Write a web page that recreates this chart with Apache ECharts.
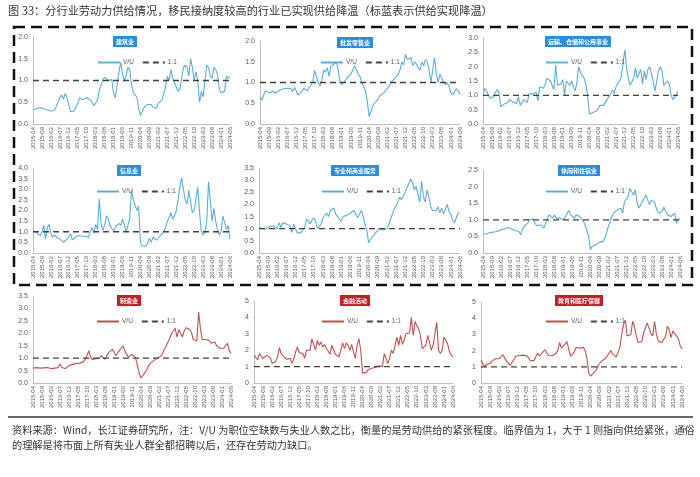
<!DOCTYPE html>
<html>
<head>
<meta charset="utf-8">
<script src="https://cdn.jsdelivr.net/npm/echarts@6/dist/echarts.min.js"></script>
<style>html,body{margin:0;padding:0;background:#fff;}#c{width:700px;height:477px;}</style>
</head>
<body>
<div id="c"></div>
<script>
// ---- categories (monthly, 2015-04 .. 2024-06) ----
const startYear = 2015, startMonth = 4, monthCount = 111;
const categories = [];
for (let k = 0; k < monthCount; k++) {
  const m0 = startMonth - 1 + k;
  const y = startYear + Math.floor(m0 / 12);
  const m = (m0 % 12) + 1;
  categories.push(y + '-' + (m < 10 ? '0' + m : m));
}
const threshold = 1; // 1:1 line

const panelTitles = ['建筑业','批发零售业','运输、仓储和公用事业','信息业','专业和商业服务','休闲和住宿业','制造业','金融活动','教育和医疗保健'];

const construction = [0.32,0.33,0.35,0.37,0.38,0.36,0.35,0.33,0.32,0.31,
 0.30,0.30,0.31,0.35,0.50,0.60,0.67,0.57,0.70,0.60,
 0.45,0.28,0.26,0.30,0.40,0.47,0.60,0.58,0.56,0.60,
 0.61,0.62,0.55,0.50,0.42,0.40,0.55,0.78,0.82,1.02,
 1.08,1.05,1.00,1.03,1.02,0.70,0.60,0.90,1.20,1.42,
 1.15,1.00,1.10,1.30,1.25,0.90,0.72,0.70,0.62,0.35,
 0.20,0.30,0.38,0.42,0.45,0.46,0.45,0.38,0.42,0.36,
 0.48,0.52,0.55,0.58,0.85,1.10,1.00,1.25,1.05,0.95,
 0.85,0.75,0.80,1.05,1.30,1.35,1.30,1.10,1.50,1.30,
 1.00,1.20,1.00,0.50,0.75,0.62,1.00,1.35,1.30,1.10,
 1.05,1.30,1.25,1.15,0.80,0.72,0.73,0.75,1.10,1.05,1.08];

const retail = [0.65,0.58,0.60,0.80,0.76,0.75,0.72,0.78,0.76,0.75,
 0.78,0.82,0.84,0.85,0.82,0.86,0.88,0.85,0.78,0.88,
 0.84,0.70,0.72,0.78,0.86,0.88,0.80,0.88,0.92,1.00,
 1.30,1.28,1.00,0.92,1.05,1.30,1.25,1.35,1.15,1.40,
 1.42,1.45,1.50,1.30,1.00,0.95,1.00,1.05,1.12,1.10,
 1.20,1.30,1.40,1.32,1.20,1.15,1.00,0.98,0.80,0.55,
 0.18,0.30,0.42,0.50,0.55,0.60,0.68,0.72,0.75,0.72,
 0.85,0.90,1.00,1.05,1.10,1.15,1.20,1.30,1.50,1.42,
 1.68,1.55,1.58,1.60,1.40,1.50,1.45,1.35,1.30,1.50,
 1.40,1.55,1.50,1.30,1.00,1.00,1.60,1.20,1.00,1.20,
 1.10,1.00,0.95,1.00,0.90,0.75,0.70,0.68,0.85,0.80,0.72];

const transport = [1.00,1.25,1.15,1.00,0.90,0.90,0.95,1.10,1.20,1.10,
 0.60,0.55,0.70,0.72,0.75,0.85,0.80,0.75,0.70,0.72,
 0.95,0.65,0.70,0.85,0.80,0.75,1.05,1.10,1.05,1.05,
 1.10,0.80,1.30,1.35,1.25,1.35,1.60,1.55,1.50,1.35,
 1.20,2.05,1.35,1.40,1.40,1.55,1.00,1.50,1.45,1.35,
 1.50,1.30,1.15,1.45,2.00,1.80,1.70,1.60,1.40,1.00,
 0.35,0.35,0.40,0.38,0.45,0.50,0.65,0.60,0.65,0.70,
 0.85,0.90,1.05,1.20,1.05,1.30,1.40,1.50,1.65,1.70,
 2.60,1.95,1.60,1.35,1.30,1.60,1.95,1.60,1.75,1.90,
 1.40,1.85,1.55,1.90,2.00,1.75,1.50,1.15,1.50,1.85,
 2.00,1.85,1.35,1.30,1.50,1.40,1.05,0.85,0.90,1.00,1.15];

const information = [1.05,1.00,0.95,0.88,0.82,1.00,1.30,0.65,1.20,1.35,
 0.90,0.75,0.85,0.75,0.80,0.65,0.60,0.50,0.55,0.65,
 0.70,0.90,0.62,0.65,0.78,0.80,0.82,0.80,0.78,0.75,
 0.80,0.70,1.00,1.20,0.95,1.35,1.10,2.55,1.40,1.05,
 1.30,1.75,1.60,1.30,1.15,1.05,1.20,1.30,1.40,1.30,
 1.60,1.35,1.00,1.30,1.60,2.95,2.50,2.25,2.00,2.20,
 0.50,0.32,0.30,0.32,0.45,0.70,0.50,0.75,0.80,0.60,
 0.65,0.80,0.90,1.00,1.20,1.50,1.65,1.90,1.60,1.75,
 2.00,2.50,3.10,3.55,3.00,2.50,2.30,2.95,2.40,1.90,
 2.00,2.05,3.10,1.90,1.00,0.85,1.00,1.45,3.35,2.50,
 1.50,2.10,1.50,1.10,0.85,1.00,1.75,1.45,1.10,1.30,0.65];

const professional = [1.05,0.98,1.00,0.95,1.00,1.05,1.10,1.15,1.12,1.05,
 1.00,1.25,1.05,1.25,1.20,1.20,1.15,1.10,0.85,1.20,
 1.00,0.82,0.80,0.85,0.92,1.05,1.40,1.30,1.20,1.35,
 1.45,1.30,1.00,1.02,1.20,1.45,1.50,1.65,1.50,1.75,
 1.80,1.85,1.60,1.65,1.40,1.30,1.50,1.50,1.55,1.50,
 1.65,1.70,1.75,1.60,1.45,1.60,1.75,1.50,1.20,0.95,
 0.42,0.55,0.65,0.75,0.85,0.92,1.00,1.05,0.95,1.00,
 1.00,1.15,1.40,1.60,1.80,1.85,2.10,2.30,2.20,2.35,
 2.50,2.70,2.65,3.05,2.90,2.60,2.75,2.40,2.10,2.95,
 2.30,2.10,2.60,2.30,1.90,1.75,1.80,1.75,1.90,1.65,
 1.85,1.60,1.80,2.00,1.70,1.60,1.35,1.25,1.45,1.65,1.65];

const leisure = [0.58,0.55,0.57,0.60,0.62,0.60,0.63,0.62,0.65,0.66,
 0.70,0.74,0.72,0.75,0.77,0.75,0.72,0.70,0.68,0.72,
 0.65,0.55,0.72,0.80,0.85,0.90,1.00,1.05,1.02,0.90,
 0.82,0.80,0.85,0.80,0.75,0.90,1.05,1.15,1.10,1.05,
 1.15,1.05,1.10,1.05,1.00,1.00,0.98,1.20,1.28,1.15,
 1.10,1.05,1.15,1.20,1.10,1.05,0.95,0.85,0.90,0.50,
 0.10,0.20,0.22,0.25,0.28,0.32,0.38,0.35,0.45,0.60,
 0.80,0.95,1.10,1.20,1.15,1.30,1.25,1.35,1.20,1.55,
 1.50,1.70,1.95,1.90,1.75,1.90,1.55,1.35,1.45,1.55,
 1.50,1.75,1.60,1.45,1.60,1.60,1.50,1.30,1.20,1.15,
 1.25,1.38,1.25,1.15,1.15,1.10,1.05,1.20,0.90,1.00,1.05];

const manufacturing = [0.60,0.55,0.62,0.61,0.60,0.62,0.61,0.60,0.62,0.65,
 0.58,0.55,0.60,0.65,0.62,0.75,0.62,0.60,0.58,0.55,
 0.70,0.70,0.75,0.80,0.78,0.85,0.80,0.75,0.85,0.95,
 1.10,1.30,1.05,0.95,1.00,0.98,1.05,1.00,1.10,1.15,
 0.95,1.10,1.22,1.30,1.35,1.25,1.10,1.05,1.30,1.40,
 1.50,1.30,1.15,1.05,1.05,1.15,1.08,1.00,0.70,0.40,
 0.20,0.28,0.40,0.50,0.65,0.78,0.85,0.90,0.95,1.00,
 1.00,1.08,1.20,1.35,1.30,1.65,1.80,2.00,2.10,2.20,
 1.85,2.15,2.00,1.85,2.10,2.22,2.25,2.15,2.05,1.75,
 1.80,1.70,2.85,2.20,1.75,1.72,1.75,1.68,1.70,1.60,
 1.55,1.65,1.50,1.45,1.40,1.35,1.40,1.35,1.60,1.30,1.20];

const finance = [1.70,1.80,1.40,1.80,1.70,1.50,1.60,1.70,1.80,1.55,
 1.20,1.10,1.30,1.60,2.15,1.80,1.65,1.55,1.45,1.55,
 1.50,1.20,1.45,1.90,2.20,1.85,1.75,1.80,1.50,2.00,
 2.05,2.00,2.70,2.35,2.00,2.60,2.30,2.50,2.20,2.35,
 2.10,1.95,1.75,2.30,2.25,1.75,1.80,1.60,2.00,2.45,
 2.10,2.45,2.30,2.00,2.35,1.90,1.50,2.30,2.70,2.00,
 0.60,0.70,0.65,0.80,0.85,0.90,1.00,0.95,1.00,1.05,
 1.05,1.00,1.80,1.70,1.20,1.50,2.00,1.80,2.30,2.80,
 2.30,2.90,2.35,2.60,3.00,3.10,3.05,4.00,2.90,3.75,
 3.50,3.30,2.90,2.10,2.00,2.30,2.90,2.50,2.00,2.30,
 3.00,3.70,2.00,1.80,2.00,2.80,2.85,2.40,1.90,1.70,1.60];

const eduHealth = [1.40,1.35,1.00,1.15,1.10,1.20,1.35,1.42,1.50,1.55,
 1.50,1.40,1.75,1.65,1.35,1.25,1.10,1.20,1.45,1.65,
 1.75,1.70,1.60,1.72,1.78,1.68,1.55,1.38,1.30,1.38,
 1.50,1.85,1.65,1.82,1.92,2.05,2.15,1.70,1.60,1.68,
 1.75,1.82,2.00,2.50,2.15,2.05,2.40,2.55,2.10,1.65,
 1.70,1.90,2.20,2.30,2.15,2.05,2.20,2.00,1.50,0.60,
 0.42,0.52,0.65,0.80,1.05,1.22,1.35,1.30,1.50,1.65,
 1.75,2.00,1.80,1.70,1.60,1.70,2.20,3.00,3.60,3.90,
 2.90,2.80,3.00,3.80,3.50,2.90,2.50,2.60,2.55,3.10,
 3.10,3.70,3.70,3.05,2.90,3.80,3.00,2.60,2.55,2.50,
 2.70,2.85,3.50,3.30,2.80,3.20,3.05,3.00,2.75,2.30,2.10];

const seriesData = [construction, retail, transport, information, professional, leisure, manufacturing, finance, eduHealth];
const yMaxes = [2, 2, 3, 4, 3.5, 2.5, 3.5, 5, 5];
const yIntervals = [0.5, 0.5, 0.5, 0.5, 0.5, 0.5, 0.5, 1, 1];

// ---- layout ----
const grids = [
  [33, 37, 197, 87], [260, 41, 200, 83], [483, 38, 195, 86],
  [33, 168, 197, 85], [259, 168, 201, 85], [483, 170, 197, 83],
  [33, 296, 198, 87], [254, 301, 199, 82], [481, 302, 201, 81]
];
const titlePos = [[122,36],[352,37],[575,36],[126,165],[352,165],[576,165],[126,295],[352,295],[576,295]];
const legendPos = [[92,54],[315,54],[540,54],[91,183],[316,183],[540,183],[91,313],[316,313],[540,313]];
const blueLine = '#5aaed8', redLine = '#c0504d';
const blueBox = '#2b8de0', redBox = '#cc1a22';

const option = {
  animation: false,
  backgroundColor: '#fff',
  grid: [], xAxis: [], yAxis: [], series: [], title: [], legend: [],
  graphic: [
    {type:'text', left: 8, top: 5, style:{text:'图 33：分行业劳动力供给情况，移民接纳度较高的行业已实现供给降温（标蓝表示供给实现降温）', font:'11.2px "Noto Sans CJK SC"', fill:'#333'}},
    {type:'rect', shape:{x:14, y:27, width:678, height:258}, style:{fill:'none', stroke:'#111', lineWidth:2.5, lineDash:[11,6]}},
    {type:'line', shape:{x1:8, y1:417, x2:693, y2:417}, style:{stroke:'#333', lineWidth:1.5}},
    {type:'text', left: 12, top: 425, style:{text:'资料来源：Wind，长江证券研究所，注：V/U 为职位空缺数与失业人数之比，衡量的是劳动供给的紧张程度。临界值为 1，大于 1 则指向供给紧张，通俗', font:'10.2px "Noto Sans CJK SC"', fill:'#333'}},
    {type:'text', left: 12, top: 440, style:{text:'的理解是将市面上所有失业人群全都招聘以后，还存在劳动力缺口。', font:'10.2px "Noto Sans CJK SC"', fill:'#333'}}
  ]
};

for (let k = 0; k < 9; k++) {
  const g = grids[k];
  const red = k >= 6;
  const lineColor = red ? redLine : blueLine;
  option.grid.push({left: g[0], top: g[1], width: g[2], height: g[3], containLabel: false});
  option.xAxis.push({
    type: 'category', gridIndex: k, data: categories, boundaryGap: false,
    axisLine: {show: true, lineStyle: {color: '#bfbfbf', width: 1}},
    axisTick: {show: false},
    axisLabel: {interval: 4, rotate: 90, fontSize: 6, color: '#595959', margin: 3, fontFamily: 'Liberation Sans'},
    splitLine: {show: false}
  });
  const dec = yIntervals[k] < 1 ? 1 : 0;
  option.yAxis.push({
    type: 'value', gridIndex: k, min: 0, max: yMaxes[k], interval: yIntervals[k],
    axisLine: {show: true, lineStyle: {color: '#bfbfbf', width: 1}},
    axisTick: {show: false},
    axisLabel: {fontSize: 7, color: '#595959', margin: 5, fontFamily: 'Liberation Sans', formatter: v => v.toFixed(dec)},
    splitLine: {show: false}
  });
  option.series.push({
    type: 'line', name: 'V/U#' + k, xAxisIndex: k, yAxisIndex: k, data: seriesData[k],
    symbol: 'none', showSymbol: false, silent: true,
    lineStyle: {width: 1.1, color: lineColor}, itemStyle: {color: lineColor}, z: 2
  });
  option.series.push({
    type: 'line', name: '1:1#' + k, xAxisIndex: k, yAxisIndex: k, data: categories.map(() => threshold),
    symbol: 'none', showSymbol: false, silent: true,
    lineStyle: {width: 1.3, color: '#404040', type: [6, 4]}, itemStyle: {color: '#404040'}, z: 3
  });
  option.title.push({
    text: panelTitles[k], left: titlePos[k][0], top: titlePos[k][1], textAlign: 'center',
    backgroundColor: red ? redBox : blueBox, padding: [2, 3],
    textStyle: {color: '#fff', fontSize: 6, fontWeight: 'bold', fontFamily: 'Noto Sans CJK SC', lineHeight: 7}
  });
  option.legend.push({
    left: legendPos[k][0], top: legendPos[k][1], itemWidth: 22, itemHeight: 8, itemGap: 8,
    selectedMode: false, data: ['V/U#' + k, '1:1#' + k],
    formatter: n => n.split('#')[0],
    itemStyle: {opacity: 0},
    textStyle: {fontSize: 6.5, color: '#595959', fontFamily: 'Liberation Sans', padding: [0, 0, 0, -2]}
  });
}

const chart = echarts.init(document.getElementById('c'), null, {renderer: 'canvas'});
chart.setOption(option);
</script>
</body>
</html>
